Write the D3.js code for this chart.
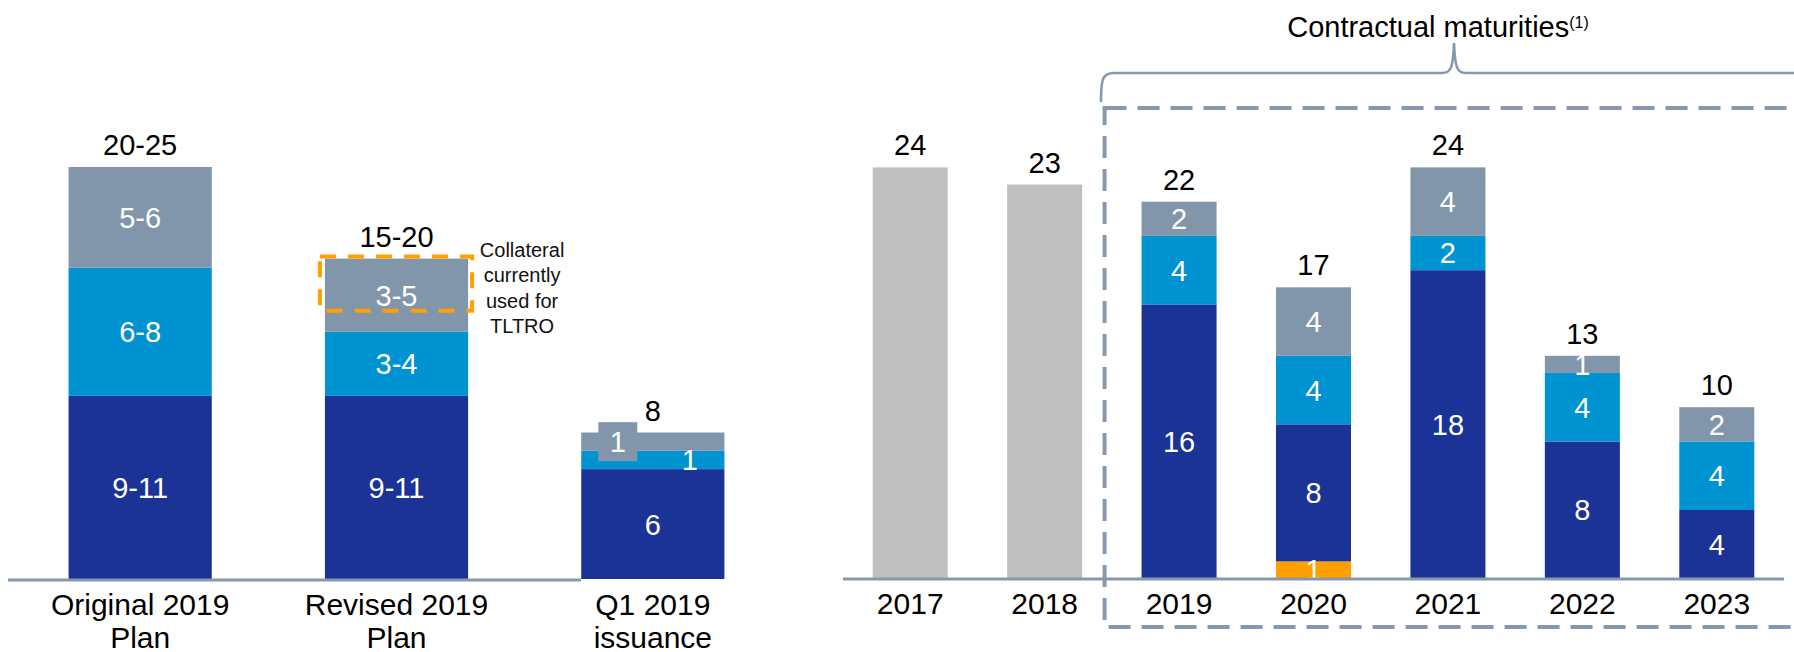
<!DOCTYPE html>
<html>
<head>
<meta charset='utf-8' />
<title>Issuance plan and contractual maturities</title>
<script src="https://d3js.org/d3.v7.min.js"></script>
<style>
body { margin: 0; padding: 0; background: #fff; }
svg text { font-family: "Liberation Sans", Arial, sans-serif; }
</style>
</head>
<body>
<div id='chart'></div>
<script>

// ---- data: left panel (issuance plan, bn) ----
var planCats = ["Original 2019 Plan", "Revised 2019 Plan", "Q1 2019 issuance"];
var planCatLines = [["Original 2019", "Plan"], ["Revised 2019", "Plan"], ["Q1 2019", "issuance"]];
var planDark = [10, 10, 6];
var planLight = [7, 3.5, 1];
var planGray = [5.5, 4, 1];
var planDarkLabels = ["9-11", "9-11", "6"];
var planLightLabels = ["6-8", "3-4", "1"];
var planGrayLabels = ["5-6", "3-5", "1"];
var planTotalLabels = ["20-25", "15-20", "8"];

// ---- data: right panel (maturities, bn) ----
var years = ["2017", "2018", "2019", "2020", "2021", "2022", "2023"];
var histTotal = [24, 23, 0, 0, 0, 0, 0];
var matOrange = [0, 0, 0, 1, 0, 0, 0];
var matDark = [0, 0, 16, 8, 18, 8, 4];
var matLight = [0, 0, 4, 4, 2, 4, 4];
var matGray = [0, 0, 2, 4, 4, 1, 2];

var colors = {
  dark: "#1b3296",
  light: "#0093d1",
  gray: "#8296ab",
  orange: "#ffa000",
  hist: "#bfbfbf",
  axis: "#8598ad"
};

var W = 1794, H = 652;
var svg = d3.select("#chart").append("svg")
  .attr("width", W)
  .attr("height", H);

//////////
// LEFT PANEL //
//////////

var xL = d3.scaleBand()
  .domain(planCats)
  .range([12, 781])
  .paddingInner(0.4414)
  .paddingOuter(0.2207);

var yL = d3.scaleLinear()
  .domain([0, 22.5])
  .range([579, 167]);

var planData = planCats.map(function(c, i) {
  return { cat: c, dark: planDark[i], light: planLight[i], gray: planGray[i] };
});
var planStack = d3.stack().keys(["dark", "light", "gray"])(planData);
var planLabels = { dark: planDarkLabels, light: planLightLabels, gray: planGrayLabels };

var left = svg.append("g");

left.selectAll("g.layer")
  .data(planStack)
  .enter()
  .append("g")
    .attr("class", "layer")
    .attr("fill", function(d) { return colors[d.key]; })
  .selectAll("rect")
  .data(function(d) { return d; })
  .enter()
  .append("rect")
    .attr("x", function(d) { return xL(d.data.cat); })
    .attr("width", xL.bandwidth())
    .attr("y", function(d) { return yL(d[1]); })
    .attr("height", function(d) { return yL(d[0]) - yL(d[1]); });

// orange dashed box: collateral used for TLTRO (top of revised plan)
var revTop = planDark[1] + planLight[1] + planGray[1];
left.append("rect")
  .attr("x", xL(planCats[1]) - 5)
  .attr("y", yL(revTop) - 2)
  .attr("width", xL.bandwidth() + 9)
  .attr("height", yL(revTop - 2.85) - yL(revTop) + 2)
  .attr("fill", "none")
  .attr("stroke", colors.orange)
  .attr("stroke-width", 4)
  .attr("stroke-dasharray", "16,12");

// segment labels
planStack.forEach(function(layer) {
  layer.forEach(function(d, i) {
    var cx = xL(d.data.cat) + xL.bandwidth() / 2;
    var cy = (yL(d[0]) + yL(d[1])) / 2;
    // Q1 issuance: the two thin segments have their labels pushed sideways
    if (i === 2 && layer.key === "gray") {
      cx -= 35;
      left.append("rect")
        .attr("x", cx - 19.5).attr("y", cy - 19.5)
        .attr("width", 39).attr("height", 39)
        .attr("fill", colors.gray);
    }
    if (i === 2 && layer.key === "light") { cx += 37; }
    left.append("text")
      .attr("x", cx)
      .attr("y", cy)
      .attr("dy", "0.36em")
      .attr("text-anchor", "middle")
      .attr("fill", "#fff")
      .style("font-size", "29px")
      .text(planLabels[layer.key][i]);
  });
});

// totals
left.selectAll("text.total")
  .data(planData)
  .enter()
  .append("text")
    .attr("class", "total")
    .attr("x", function(d) { return xL(d.cat) + xL.bandwidth() / 2; })
    .attr("y", function(d) { return yL(d.dark + d.light + d.gray) - 12; })
    .attr("text-anchor", "middle")
    .style("font-size", "29px")
    .text(function(d, i) { return planTotalLabels[i]; });

// note next to dashed box
var note = left.append("text")
  .attr("text-anchor", "middle")
  .style("font-size", "20px")
  .attr("fill", "#111");
["Collateral", "currently", "used for", "TLTRO"].forEach(function(t, i) {
  note.append("tspan")
    .attr("x", xL(planCats[1]) + xL.bandwidth() + 54)
    .attr("y", yL(revTop) - 2 + i * 25.5)
    .text(t);
});

// axis line + category labels
left.append("line")
  .attr("x1", 8).attr("x2", 581)
  .attr("y1", 580).attr("y2", 580)
  .attr("stroke", colors.axis)
  .attr("stroke-width", 3);

planCats.forEach(function(c, i) {
  var t = left.append("text")
    .attr("text-anchor", "middle")
    .style("font-size", "30px");
  planCatLines[i].forEach(function(line, j) {
    t.append("tspan")
      .attr("x", xL(c) + xL.bandwidth() / 2)
      .attr("y", 615 + j * 33)
      .text(line);
  });
});

//////////
// RIGHT PANEL //
//////////

var xR = d3.scaleBand()
  .domain(years)
  .range([843, 1784])
  .paddingInner(0.442)
  .paddingOuter(0.221);

var yR = d3.scaleLinear()
  .domain([0, 24])
  .range([578.5, 167.4]);

var matData = years.map(function(y, i) {
  return { year: y, hist: histTotal[i], orange: matOrange[i], dark: matDark[i], light: matLight[i], gray: matGray[i] };
});
var matStack = d3.stack().keys(["hist", "orange", "dark", "light", "gray"])(matData);

var right = svg.append("g");

right.selectAll("g.layer")
  .data(matStack)
  .enter()
  .append("g")
    .attr("class", "layer")
    .attr("fill", function(d) { return colors[d.key]; })
  .selectAll("rect")
  .data(function(d) { return d.filter(function(s) { return s[1] > s[0]; }); })
  .enter()
  .append("rect")
    .attr("x", function(d) { return xR(d.data.year); })
    .attr("width", xR.bandwidth())
    .attr("y", function(d) { return yR(d[1]); })
    .attr("height", function(d) { return yR(d[0]) - yR(d[1]); });

// segment labels (not on the historical bars)
matStack.forEach(function(layer) {
  if (layer.key === "hist") return;
  layer.forEach(function(d) {
    if (d[1] <= d[0]) return;
    right.append("text")
      .attr("x", xR(d.data.year) + xR.bandwidth() / 2)
      .attr("y", (yR(d[0]) + yR(d[1])) / 2)
      .attr("dy", "0.36em")
      .attr("text-anchor", "middle")
      .attr("fill", "#fff")
      .style("font-size", "29px")
      .text(d.data[layer.key]);
  });
});

// totals
right.selectAll("text.total")
  .data(matData)
  .enter()
  .append("text")
    .attr("class", "total")
    .attr("x", function(d) { return xR(d.year) + xR.bandwidth() / 2; })
    .attr("y", function(d) { return yR(d.hist + d.orange + d.dark + d.light + d.gray) - 12; })
    .attr("text-anchor", "middle")
    .style("font-size", "29px")
    .text(function(d) { return d.hist + d.orange + d.dark + d.light + d.gray; });

// axis
right.append("line")
  .attr("x1", xR.range()[0]).attr("x2", xR.range()[1])
  .attr("y1", 579).attr("y2", 579)
  .attr("stroke", colors.axis)
  .attr("stroke-width", 3);

right.selectAll("text.tick")
  .data(years)
  .enter()
  .append("text")
    .attr("class", "tick")
    .attr("x", function(d) { return xR(d) + xR.bandwidth() / 2; })
    .attr("y", 614)
    .attr("text-anchor", "middle")
    .style("font-size", "30px")
    .text(function(d) { return d; });

// dashed frame around contractual maturities
var firstMat = xR("2019");
right.append("rect")
  .attr("x", firstMat - 37)
  .attr("y", 108)
  .attr("width", 760)
  .attr("height", 519)
  .attr("fill", "none")
  .attr("stroke", colors.axis)
  .attr("stroke-width", 4)
  .attr("stroke-dasharray", "22,11");

// brace + title
right.append("path")
  .attr("d", "M1101,102 C1101,80 1102,73 1114,73 L1442,73 C1451,73 1453,68 1454,43 C1455,68 1457,73 1466,73 L1800,73")
  .attr("fill", "none")
  .attr("stroke", colors.axis)
  .attr("stroke-width", 2.5);

var title = right.append("text")
  .attr("x", 1438)
  .attr("y", 37)
  .attr("text-anchor", "middle")
  .style("font-size", "29px")
  .text("Contractual maturities");
title.append("tspan")
  .attr("dy", -9)
  .style("font-size", "16px")
  .text("(1)");

</script>
</body>
</html>
